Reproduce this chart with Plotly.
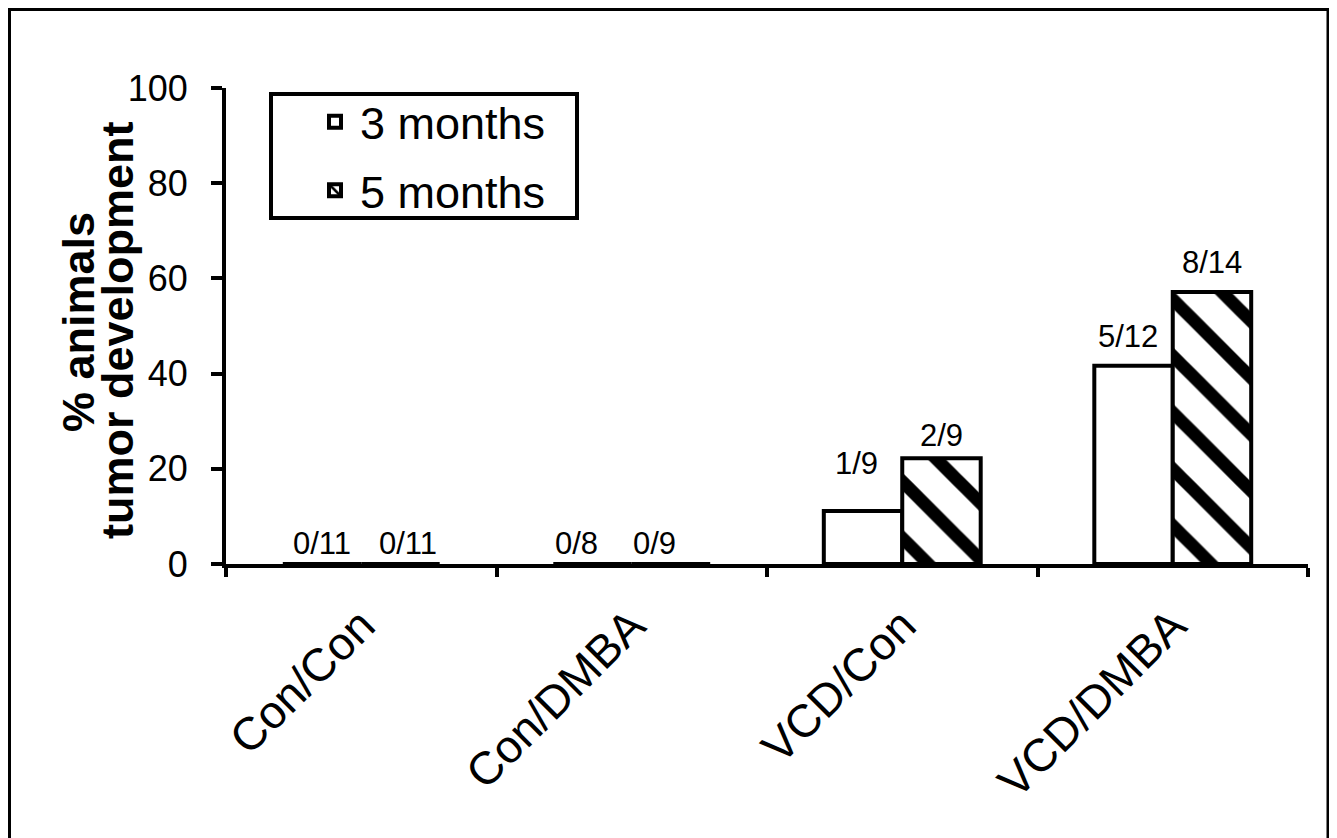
import plotly.graph_objects as go

categories = ["Con/Con", "Con/DMBA", "VCD/Con", "VCD/DMBA"]
series_names = ["3 months", "5 months"]
pct_3m = [0.0, 0.0, 100 * 1 / 9, 100 * 5 / 12]
pct_5m = [0.0, 0.0, 100 * 2 / 9, 100 * 8 / 14]
labels_3m = ["0/11", "0/8", "1/9", "5/12"]
labels_5m = ["0/11", "0/9", "2/9", "8/14"]
label_y_3m = [4.4, 4.4, 21.2, 47.9]
label_y_5m = [4.4, 4.4, 26.9, 63.4]
y_ticks = [0, 20, 40, 60, 80, 100]

# small horizontal nudges of the count labels (pixels)
label_shift_3m = [0, -16, -7, -6]
label_shift_5m = [8, -16, 0, 0]

FONT = "Arial, Liberation Sans, sans-serif"
W, H = 1337, 838
OFF = 8  # page body margin
ML, MR, MT, MB = 226 - OFF, 1337 - (1308 - OFF), 88 - OFF, 838 - (564 - OFF)
BARGAP = 0.42

fig = go.Figure()
fig.add_trace(go.Bar(
    x=categories, y=pct_3m, name=series_names[0], legendgroup="a",
    marker=dict(color="white", line=dict(color="black", width=4)),
))
fig.add_trace(go.Bar(
    x=categories, y=pct_5m, name=series_names[1], legendgroup="b",
    marker=dict(color="white", line=dict(color="black", width=4),
                pattern=dict(shape="\\", fgcolor="black", bgcolor="white",
                             size=40, solidity=0.32, fillmode="replace")),
))

off = (1 - BARGAP) / 4
annotations = []
for i in range(len(categories)):
    for lab, yy, dx, sh in ((labels_3m[i], label_y_3m[i], -off, label_shift_3m[i]),
                            (labels_5m[i], label_y_5m[i], off, label_shift_5m[i])):
        annotations.append(dict(x=i + dx, y=yy, xref="x", yref="y", text=lab, xshift=sh,
                                showarrow=False, font=dict(family=FONT, size=31, color="black"),
                                xanchor="center", yanchor="middle"))

pw = W - ML - MR
ph = H - MT - MB
def px_x(p):  # page pixel -> paper
    return (p - OFF - ML) / pw
def px_y(p):
    return (H - MB - (p - OFF)) / ph

annotations.append(dict(x=px_x(78), y=px_y(322), xref="paper", yref="paper", text="% animals",
                        textangle=-90, showarrow=False,
                        font=dict(family=FONT, size=45, color="black", weight="bold"),
                        xanchor="center", yanchor="middle"))
annotations.append(dict(x=px_x(117), y=px_y(330), xref="paper", yref="paper", text="tumor development",
                        textangle=-90, showarrow=False,
                        font=dict(family=FONT, size=45, color="black", weight="bold"),
                        xanchor="center", yanchor="middle"))

shapes = [
    dict(type="rect", xref="paper", yref="paper",
         x0=px_x(9.5), x1=px_x(1328), y0=px_y(860), y1=px_y(9.5),
         line=dict(color="black", width=3), fillcolor="rgba(0,0,0,0)", layer="below"),
    dict(type="rect", xref="paper", yref="paper",
         x0=px_x(271), x1=px_x(577), y0=px_y(218), y1=px_y(94),
         line=dict(color="black", width=4), fillcolor="white", layer="above"),
    dict(type="line", xref="paper", yref="y", x0=px_x(212), x1=0, y0=0, y1=0,
         line=dict(color="black", width=4)),
]

fig.update_layout(
    width=W, height=H,
    margin=dict(l=ML, r=MR, t=MT, b=MB),
    paper_bgcolor="white", plot_bgcolor="white",
    barmode="group", bargap=BARGAP, bargroupgap=0,
    font=dict(family=FONT, color="black"),
    showlegend=True,
    legend=dict(x=px_x(310), y=px_y(86), xanchor="left", yanchor="top",
                borderwidth=0, bgcolor="rgba(0,0,0,0)",
                font=dict(family=FONT, size=45, color="black"),
                itemwidth=40, tracegroupgap=7, traceorder="grouped"),
    annotations=annotations,
    shapes=shapes,
    xaxis=dict(type="category", showline=True, linecolor="black", linewidth=4,
               ticks="outside", tickson="boundaries", ticklen=9, tickwidth=4, tickcolor="black",
               tickangle=-45, tickfont=dict(family=FONT, size=46, color="black"),
               showgrid=False, zeroline=False, ticklabelstandoff=12),
    yaxis=dict(range=[0, 100], tickvals=y_ticks, showline=True, linecolor="black", linewidth=4,
               ticks="outside", ticklen=11, tickwidth=4, tickcolor="black",
               tickfont=dict(family=FONT, size=36, color="black"),
               showgrid=False, zeroline=False, ticklabelstandoff=16),
)

fig.write_html("out.html")
